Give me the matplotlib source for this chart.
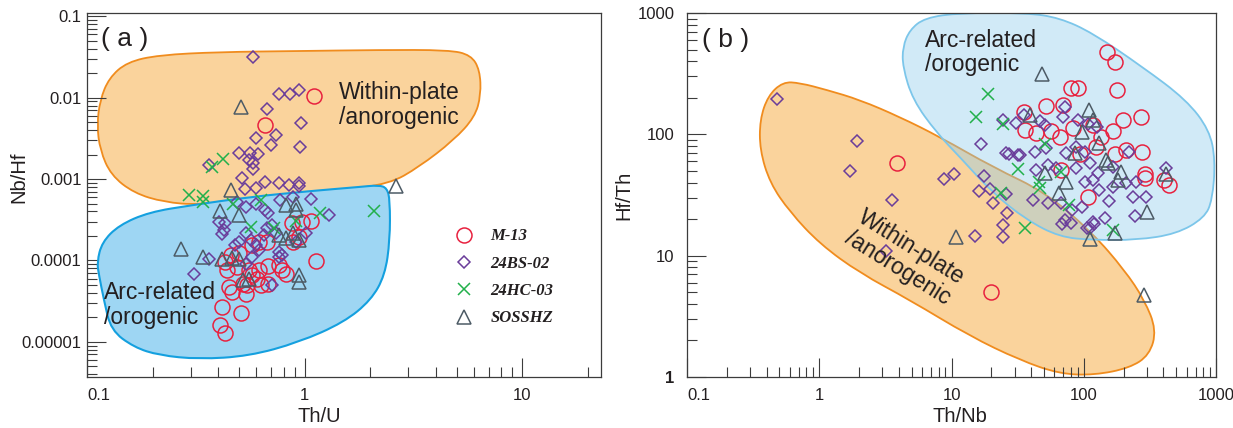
import matplotlib
matplotlib.use("Agg")
import matplotlib.pyplot as plt
import numpy as np
from matplotlib.path import Path
from matplotlib.patches import PathPatch
from matplotlib.ticker import LogLocator, NullFormatter

plt.rcParams["font.family"] = ["Liberation Sans", "DejaVu Sans"]

# ---- colours ----
C_M13 = "#E8213F"
C_BS = "#6A3D9A"
C_HC = "#22B04B"
C_SOS = "#4D5B66"
C_TEXT = "#231F20"
C_AXIS = "#3C3C3C"
C_WP_FILL = "#FAD39C"
C_WP_EDGE = "#F08C1E"
C_ARC_FILL = "#9ED6F3"
C_ARC_EDGE = "#14A0DF"

# ---- panel (a): Th/U vs Nb/Hf ----
M13_A_THU = [1.10, 0.66, 1.07, 0.975, 0.877, 0.88, 0.94, 0.67, 0.62, 0.57, 0.457, 0.50,
             0.43, 0.44, 0.49, 0.555, 0.575, 0.62, 0.68, 0.76, 0.79, 0.82, 0.605, 0.63,
             0.68, 0.545, 0.52, 0.45, 0.465, 0.535, 0.418, 0.51, 0.41, 0.43, 1.13]
M13_A_NBHF = [0.0105, 0.0046, 0.00031, 0.0003, 0.000285, 0.000169, 0.000195, 0.000169,
              0.000169, 0.000154, 0.000116, 0.000122, 0.0000962, 0.000076, 0.0000834,
              0.000076, 0.0000659, 0.000076, 0.0000849, 0.000087, 0.000076, 0.000069,
              0.00006, 0.0000497, 0.000052, 0.0000497, 0.000052, 0.0000473, 0.000041,
              0.000039, 0.0000269, 0.0000227, 0.000016, 0.0000129, 0.0000989]

BS_A_THU = [0.58, 0.76, 0.86, 0.94, 0.67, 0.96, 0.74, 0.60, 0.70, 0.95, 0.50, 0.56, 0.61,
            0.555, 0.58, 0.58, 0.363, 0.517, 0.66, 0.76, 0.85, 0.94, 0.94, 0.53, 0.60,
            1.29, 0.49, 0.535, 0.60, 0.66, 0.68, 0.77, 0.88, 1.07, 0.404, 0.43, 0.425,
            0.418, 0.48, 0.50, 0.535, 0.565, 0.60, 0.62, 0.65, 0.67, 0.71, 0.74, 0.76,
            0.76, 0.71, 0.79, 0.91, 1.01, 0.575, 0.535, 0.31, 0.363]
BS_A_NBHF = [0.032, 0.0111, 0.0111, 0.0124, 0.0072, 0.0049, 0.0035, 0.0032, 0.0026, 0.0025,
             0.00207, 0.00207, 0.00203, 0.0017, 0.00157, 0.00135, 0.00149, 0.00102,
             0.00093, 0.0009, 0.00084, 0.00089, 0.00082, 0.00075, 0.00077, 0.00036,
             0.00053, 0.00046, 0.0005, 0.00042, 0.00038, 0.00055, 0.0006, 0.00057, 0.0003,
             0.000285, 0.00024, 0.00021, 0.000154, 0.000169, 0.00022, 0.00018, 0.000154,
             0.000134, 0.000205, 0.00025, 0.00027, 0.00022, 0.000128, 0.000111, 0.0000497,
             0.000116, 0.000169, 0.00022, 0.000111, 0.000091, 0.0000689, 0.000104]

HC_A_THU = [0.294, 0.34, 0.34, 0.42, 0.377, 2.08, 1.18, 0.63, 0.47, 0.565, 0.72, 0.91]
HC_A_NBHF = [0.00064, 0.00062, 0.00053, 0.00175, 0.00139, 0.0004, 0.00038, 0.00055, 0.0005,
             0.00026, 0.00025, 0.00031]

SOS_A_THU = [0.51, 0.46, 2.62, 0.82, 0.91, 0.41, 0.50, 0.27, 0.34, 0.418, 0.465, 0.50,
             0.76, 0.82, 0.94, 0.88, 0.94, 0.94, 0.52, 0.555, 0.91]
SOS_A_NBHF = [0.0076, 0.00073, 0.00082, 0.00048, 0.0005, 0.0004, 0.00036, 0.00014, 0.000109,
              0.000104, 0.000106, 0.000103, 0.000205, 0.00019, 0.00018, 0.00022, 0.000066,
              0.000055, 0.000058, 0.00006, 0.00042]

# field outlines, log10 units
WP_A_LOGX = [-0.954, -0.940, -0.899, -0.816, -0.669, -0.394, -0.026, 0.341, 0.663, 0.764,
             0.805, 0.810, 0.782, 0.686, 0.525, 0.388, 0.158, -0.164, -0.486, -0.646,
             -0.784, -0.890, -0.940]
WP_A_LOGY = [-2.336, -2.028, -1.758, -1.561, -1.475, -1.438, -1.426, -1.413, -1.413, -1.475,
             -1.659, -1.967, -2.237, -2.520, -2.852, -3.061, -3.135, -3.234, -3.318, -3.283,
             -3.172, -2.951, -2.643]
ARC_A_LOGX = [-0.518, -0.256, 0.020, 0.249, 0.341, 0.378, 0.392, 0.392, 0.369, 0.305, 0.181,
              -0.026, -0.256, -0.486, -0.669, -0.784, -0.890, -0.922, -0.945, -0.954,
              -0.931, -0.853, -0.715]
ARC_A_LOGY = [-3.320, -3.221, -3.148, -3.097, -3.074, -3.109, -3.257, -3.750, -4.181, -4.487,
              -4.759, -5.005, -5.175, -5.213, -5.165, -5.066, -4.857, -4.488, -4.179,
              -4.021, -3.775, -3.566, -3.406]

# ---- panel (b): Th/Nb vs Hf/Th ----
M13_B_THNB = [3.84, 20.0, 150, 171, 79.4, 90.2, 179, 52.1, 69.5, 35.3, 35.7, 43.3, 56.9,
              65.6, 82.8, 117, 136, 166, 197, 272, 123, 209, 171, 277, 92.9, 67.6, 107,
              293, 293, 401, 445]
M13_B_HFTH = [57.8, 5.05, 481, 393, 243, 243, 232, 171, 175, 154, 109, 103, 107, 95.7, 112,
              120, 95.7, 107, 131, 140, 79.2, 74.4, 68.9, 72.0, 68.9, 50.9, 30.7, 47.2,
              43.5, 42.1, 38.3]

BS_B_THNB = [0.48, 1.93, 1.70, 3.56, 8.73, 10.4, 16.8, 17.5, 16.1, 19.5, 20.6, 26.0, 26.3,
             24.5, 24.5, 15.0, 3.2, 24.5, 30.9, 26.0, 31.8, 68.5, 80, 106, 120, 35.1, 46.4,
             50.6, 69.5, 71.6, 90.2, 107, 126, 27.2, 33.1, 42.5, 52.1, 73.8, 87.7, 103,
             111, 128, 166, 219, 43.8, 53.6, 61.9, 87.7, 117, 103, 131, 166, 249, 209, 420,
             41.3, 53.6, 67.6, 80.9, 97.5, 71.6, 117, 144, 111, 155, 235, 298, 246]
BS_B_HFTH = [196, 88.7, 50.2, 28.8, 42.6, 47.2, 82.9, 45.4, 34.3, 35.3, 27.0, 32.1, 22.4,
             17.9, 14.3, 14.5, 11.0, 131, 123.5, 69.9, 67.6, 18.3, 18.7, 16.8, 18.3, 145,
             130, 120, 140, 169, 131, 122, 114, 68.9, 67.6, 72.0, 76.8, 69.9, 79.2, 72.0,
             57.8, 47.8, 54.2, 72.0, 50.9, 55.9, 52.5, 52.5, 42.1, 40.7, 34.8, 37.1, 40.7,
             40.0, 52.5, 28.8, 27.0, 27.0, 23.8, 25.3, 19.7, 19.1, 20.3, 16.8, 28.2, 30.3,
             30.7, 21.3]

HC_B_THNB = [15.4, 18.9, 24.5, 50.6, 31.8, 67.6, 45.8, 46.4, 23.8, 77.1, 35.7, 166]
HC_B_HFTH = [138, 214, 121, 83.4, 51.6, 49.3, 40.7, 35.9, 32.7, 26.2, 16.8, 16.3]

SOS_B_THNB = [48.6, 109, 39.0, 117, 97.5, 131, 85.3, 148, 152, 192, 181, 50.6, 73.8, 64.9,
              420, 300, 10.8, 111, 171, 286]
SOS_B_HFTH = [315, 159, 145, 131, 105, 84.5, 69.9, 61.5, 57.8, 49.3, 42.1, 47.8, 40.7,
              32.7, 47.2, 23.1, 14.2, 13.7, 15.5, 4.74]

WP_B_LOGX = [-0.275, -0.147, 0.057, 0.307, 0.609, 0.911, 1.311, 1.719, 2.066, 2.308, 2.459,
             2.550, 2.497, 2.346, 2.082, 1.817, 1.515, 1.137, 0.684, 0.307, 0.005, -0.222,
             -0.373, -0.449, -0.449, -0.388]
WP_B_LOGY = [2.432, 2.424, 2.366, 2.284, 2.143, 1.979, 1.731, 1.517, 1.187, 0.882, 0.635,
             0.387, 0.181, 0.074, 0.016, 0.025, 0.140, 0.338, 0.635, 0.857, 1.096, 1.360,
             1.599, 1.871, 2.119, 2.317]
ARC_B_LOGX = [0.631, 0.684, 0.798, 1.062, 1.568, 1.817, 2.066, 2.444, 2.776, 2.950, 2.995,
              2.973, 2.912, 2.701, 2.399, 2.066, 1.817, 1.568, 1.311, 1.062, 0.888, 0.707,
              0.631]
ARC_B_LOGY = [2.720, 2.861, 2.960, 3.001, 3.001, 2.960, 2.836, 2.556, 2.284, 2.036, 1.789,
              1.459, 1.311, 1.179, 1.129, 1.129, 1.154, 1.294, 1.517, 1.814, 2.012, 2.284,
              2.556]

SAMPLES = ["M-13", "24BS-02", "24HC-03", "SOSSHZ"]


def field_path(logx, logy):
    """Smooth closed outline (quadratic beziers through edge midpoints, in log space)."""
    lx = np.asarray(logx, float)
    ly = np.asarray(logy, float)
    mx = (lx + np.roll(lx, -1)) / 2
    my = (ly + np.roll(ly, -1)) / 2
    verts = [(mx[-1], my[-1])]
    codes = [Path.MOVETO]
    for i in range(len(lx)):
        verts += [(lx[i], ly[i]), (mx[i], my[i])]
        codes += [Path.CURVE3, Path.CURVE3]
    return Path(10 ** np.array(verts), codes)


def style_ax(ax, ypad):
    for sp in ax.spines.values():
        sp.set_color(C_AXIS)
        sp.set_linewidth(0.9)
    ax.set_xscale("log")
    ax.set_yscale("log")
    for axis in (ax.xaxis, ax.yaxis):
        axis.set_minor_locator(LogLocator(base=10, subs=np.arange(2, 10), numticks=100))
        axis.set_minor_formatter(NullFormatter())
    ax.tick_params(which="both", direction="in", color=C_AXIS, width=0.8,
                   labelcolor=C_TEXT, labelsize=12, top=False, right=False)
    ax.tick_params(which="major", length=14)
    ax.tick_params(which="minor", length=7)
    ax.tick_params(axis="x", pad=8)
    ax.tick_params(axis="y", pad=ypad)


def draw_points(ax, groups, label=True):
    specs = [
        dict(marker="o", ms=10.8, mec=C_M13),
        dict(marker="D", ms=6.0, mec=C_BS),
        dict(marker="x", ms=8.6, mec=C_HC),
        dict(marker="^", ms=10.5, mec=C_SOS),
    ]
    for (xs, ys), spec, name in zip(groups, specs, SAMPLES):
        ax.plot(xs, ys, ls="none", mfc="none", mew=1.1, zorder=5,
                label=name if label else None, **spec)


fig = plt.figure(figsize=(12.33, 4.28), dpi=100)
ax1 = fig.add_axes([87 / 1233, 1 - 377 / 428, 514 / 1233, 364 / 428])
ax2 = fig.add_axes([687 / 1233, 1 - 377 / 428, 529 / 1233, 364 / 428])

LABEL_KW = dict(fontsize=16.5, color=C_TEXT, linespacing=1.1, zorder=6)

# ---------------- panel a ----------------
style_ax(ax1, ypad=4)
ax1.add_patch(PathPatch(field_path(WP_A_LOGX, WP_A_LOGY), facecolor=C_WP_FILL,
                        edgecolor=C_WP_EDGE, lw=1.3, zorder=1))
ax1.add_patch(PathPatch(field_path(ARC_A_LOGX, ARC_A_LOGY), facecolor=C_ARC_FILL,
                        edgecolor=C_ARC_EDGE, lw=1.5, zorder=2))
draw_points(ax1, [(M13_A_THU, M13_A_NBHF), (BS_A_THU, BS_A_NBHF),
                  (HC_A_THU, HC_A_NBHF), (SOS_A_THU, SOS_A_NBHF)])
ax1.set_xlim(0.1, 23)
ax1.set_ylim(3.7e-6, 0.11)
ax1.set_xticks([0.1, 1, 10])
ax1.set_xticklabels(["0.1", "1", "10"])
ax1.get_xticklabels()[0].set_horizontalalignment("left")
ax1.set_yticks([1e-5, 1e-4, 1e-3, 1e-2, 1e-1])
ax1.set_yticklabels(["0.00001", "0.0001", "0.001", "0.01", "0.1"])
ax1.set_xlabel("Th/U", fontsize=14.5, color=C_TEXT)
ax1.set_ylabel("Nb/Hf", fontsize=14.5, color=C_TEXT)
ax1.xaxis.set_label_coords((319 - 87) / 514, -0.083)
ax1.yaxis.set_label_coords((28 - 87) / 514, 0.55)

ax1.text(0.116, 0.053, "( a )", fontsize=19, color=C_TEXT, ha="left", va="center")
ax1.text(1.44, 0.0082, "Within-plate\n/anorogenic", ha="left", va="center", **LABEL_KW)
ax1.text(0.1197, 2.86e-5, "Arc-related\n/orogenic", ha="left", va="center", **LABEL_KW)

leg = ax1.legend(loc="upper left", bbox_to_anchor=(0.717, 0.408), frameon=False,
                 handlelength=1.0, handletextpad=1.1, labelspacing=0.68,
                 borderpad=0, borderaxespad=0,
                 prop=dict(family=["Liberation Serif", "DejaVu Serif"], weight="bold",
                           style="italic", size=12))
for t in leg.get_texts():
    t.set_color(C_TEXT)

# ---------------- panel b ----------------
style_ax(ax2, ypad=9)
ax2.add_patch(PathPatch(field_path(WP_B_LOGX, WP_B_LOGY), facecolor=C_WP_FILL,
                        edgecolor=C_WP_EDGE, lw=1.3, zorder=1))
ax2.add_patch(PathPatch(field_path(ARC_B_LOGX, ARC_B_LOGY),
                        facecolor=(0.55, 0.80, 0.93, 0.40),
                        edgecolor="#7CC6EA", lw=1.3, zorder=2))
draw_points(ax2, [(M13_B_THNB, M13_B_HFTH), (BS_B_THNB, BS_B_HFTH),
                  (HC_B_THNB, HC_B_HFTH), (SOS_B_THNB, SOS_B_HFTH)], label=False)
ax2.set_xlim(0.1, 1000)
ax2.set_ylim(1, 1000)
ax2.set_xticks([0.1, 1, 10, 100, 1000])
ax2.set_xticklabels(["0.1", "1", "10", "100", "1000"])
ax2.get_xticklabels()[0].set_horizontalalignment("left")
ax2.set_yticks([1, 10, 100, 1000])
ax2.set_yticklabels(["1", "10", "100", "1000"])
ax2.get_yticklabels()[0].set_fontweight("bold")
ax2.set_xlabel("Th/Nb", fontsize=14.5, color=C_TEXT)
ax2.set_ylabel("Hf/Th", fontsize=14.5, color=C_TEXT)
ax2.xaxis.set_label_coords((960 - 687) / 529, -0.083)
ax2.yaxis.set_label_coords((633 - 687) / 529, 0.5)

ax2.text(0.130, 600, "( b )", fontsize=19, color=C_TEXT, ha="left", va="center")
ax2.text(6.28, 473, "Arc-related\n/orogenic", ha="left", va="center", **LABEL_KW)
ax2.text(4.44, 9.57, "Within-plate\n/anorogenic", ha="center", va="center",
         rotation=-32, rotation_mode="anchor", multialignment="left", **LABEL_KW)

fig.savefig("out.png", dpi=100)
plt.close(fig)
